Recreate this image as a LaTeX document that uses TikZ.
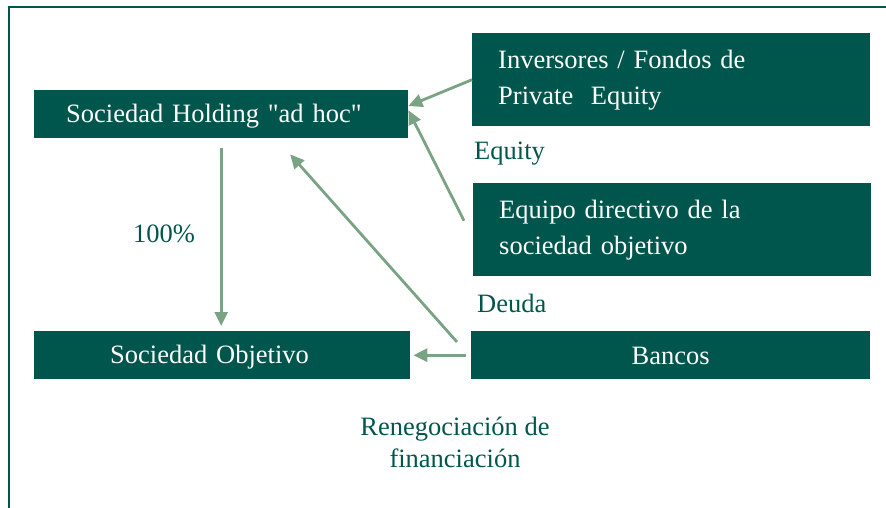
\documentclass[tikz,border=0pt]{standalone}
\usepackage{fontspec}
\setmainfont{Liberation Serif}
\usetikzlibrary{arrows.meta,calc}
\definecolor{boxgreen}{RGB}{0,86,76}
\definecolor{arrowgreen}{RGB}{122,163,131}
\begin{document}
\begin{tikzpicture}[x=1pt,y=-1pt,
  box/.style={fill=boxgreen, text=white, inner ysep=0pt, font=\fontsize{26.5}{36}\selectfont, anchor=north west},
  lbl/.style={text=boxgreen, inner sep=0pt, font=\fontsize{26.5}{32}\selectfont},
  arr/.style={draw=arrowgreen, line width=2.8pt, -{Triangle[length=14pt,width=13pt]}}]
\useasboundingbox (0,0) rectangle (886,508);
\draw[boxgreen, line width=2pt] (9,508) -- (9,7) -- (886,7);

\node[box, inner xsep=32pt, text width=310pt, minimum height=48pt, text height=18.5pt, text depth=2pt, align=left] (A) at (34,90) {Sociedad Holding \textquotedbl ad hoc\textquotedbl};
\node[box, inner xsep=26pt, text width=346pt, minimum height=93pt, align=left] (B) at (472,33) {Inversores / Fondos de\\Private~~Equity};
\node[box, inner xsep=26pt, text width=346pt, minimum height=93pt, align=left] (C) at (473,183) {Equipo directivo de la\\sociedad objetivo};
\node[box, inner xsep=76pt, text width=224pt, minimum height=48pt, text height=18.5pt, text depth=2pt, align=left] (D) at (34,331) {Sociedad Objetivo};
\node[box, inner xsep=0pt, minimum width=399pt, minimum height=48pt, text height=18.5pt, text depth=0pt, align=center] (E) at (471,331) {Bancos};

\node[lbl, anchor=base west] (eq) at (474,160) {Equity};
\node[lbl, anchor=base west] (de) at (477,312) {Deuda};
\node[lbl, anchor=base west] (pct) at (133,242) {100\%};
\node[lbl, align=center, anchor=center] (ren) at (455,442) {Renegociación de\\financiación};

\draw[arr] (B.west) -- ($(A.north east)!0.33!(A.south east)$);
\draw[arr] ($(C.west)+(-9,-9)$) -- ($(A.north east)!0.42!(A.south east)$);
\draw[arr] ($(A.south)+(0,10)$) -- ($(A.south |- D.north)+(0,-5)$);
\draw[arr] ($(E.north west)+(-14,11)$) -- ($(A.south)+(69,16)$);
\draw[arr] ($(E.west)+(-5,0)$) -- ($(D.east)+(3,0)$);
\end{tikzpicture}
\end{document}
